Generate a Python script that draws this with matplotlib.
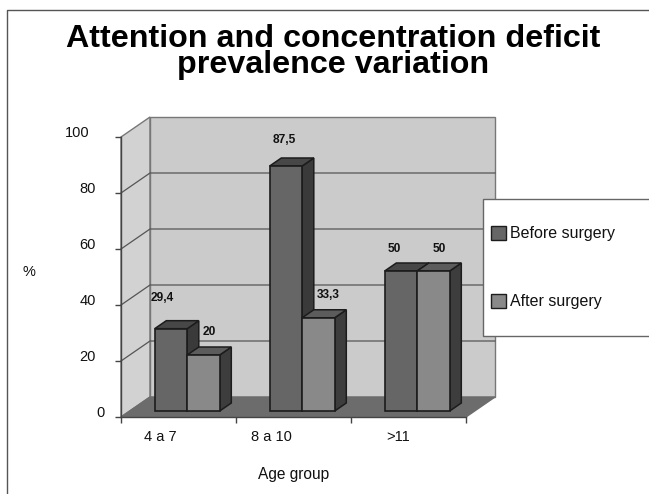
import matplotlib
matplotlib.use("Agg")
import matplotlib.pyplot as plt
from matplotlib.patches import Polygon, Rectangle

W, H = 649, 494
categories = ["4 a 7", "8 a 10", ">11"]
before = [29.4, 87.5, 50]
after = [20, 33.3, 50]
before_labels = ["29,4", "87,5", "50"]
after_labels = ["20", "33,3", "50"]
yticks = [0, 20, 40, 60, 80, 100]
title = "Attention and concentration deficit\nprevalence variation"

plt.rcParams["font.family"] = ["Liberation Sans", "DejaVu Sans"]
fig = plt.figure(figsize=(W / 100, H / 100), dpi=100)
ax = fig.add_axes([121 / W, (H - 417) / H, 345 / W, 280 / H])
ax.set_xlim(0, 3)
ax.set_ylim(0, 100)
ax.patch.set_visible(False)
for s in ax.spines.values():
    s.set_visible(False)

DX, DY = 29 / 115, 20 / 2.8   # full chart depth in data units
BW = 32.5 / 115
F0, F1 = 0.30, 0.70           # bar depth range as a fraction of chart depth
EDGE = "#1c1c1c"
# label placement relative to the top-centre of each bar's front face, in pixels
BEFORE_OFF = [(-9, 31), (-2, 26), (-7, 22)]
AFTER_OFF = [(6, 23), (10, 23), (6, 22)]
YLAB_OFF = {0: -12, 100: -23}
XLAB_OFF = [-13, -16, -7.5]


def poly(pts, fc, ec="#555555", lw=1.0, z=1):
    ax.add_patch(Polygon(pts, closed=True, fc=fc, ec=ec, lw=lw, zorder=z, clip_on=False))


# walls and floor
poly([(0, 0), (DX, DY), (DX, 100 + DY), (0, 100)], "#d2d2d2", "#777777")
poly([(DX, DY), (3 + DX, DY), (3 + DX, 100 + DY), (DX, 100 + DY)], "#cbcbcb", "#777777")
poly([(0, 0), (DX, DY), (3 + DX, DY), (3, 0)], "#6c6c6c", "#6c6c6c")
for t in yticks[1:-1]:
    ax.plot([0, DX, 3 + DX], [t, t + DY, t + DY], color="#555555", lw=0.9, zorder=2, clip_on=False)


def bar3d(x, v, front, side, top, z):
    ox, oy = DX * F0, DY * F0
    ex, ey = DX * (F1 - F0), DY * (F1 - F0)
    x0, x1 = x + ox, x + ox + BW
    y0, y1 = oy, oy + v
    poly([(x1, y0), (x1 + ex, y0 + ey), (x1 + ex, y1 + ey), (x1, y1)], side, EDGE, 1.1, z)
    poly([(x0, y1), (x1, y1), (x1 + ex, y1 + ey), (x0 + ex, y1 + ey)], top, EDGE, 1.1, z)
    poly([(x0, y0), (x1, y0), (x1, y1), (x0, y1)], front, EDGE, 1.2, z)


def bar_label(x, v, text, off):
    ax.annotate(text, (x + DX * F0 + 0.5 * BW, DY * F0 + v), xytext=off, textcoords="offset pixels",
                fontsize=8.6, fontweight="bold", ha="center", va="center", color="#111111",
                zorder=20, annotation_clip=False)


for i in range(len(categories)):
    c = i + 0.5
    bar3d(c - BW, before[i], "#666666", "#3a3a3a", "#474747", 3 + i * 2)
    bar3d(c, after[i], "#898989", "#3d3d3d", "#5c5c5c", 4 + i * 2)
    bar_label(c - BW, before[i], before_labels[i], BEFORE_OFF[i])
    bar_label(c, after[i], after_labels[i], AFTER_OFF[i])

# axes lines and ticks
ax.plot([0, 0], [0, 100], color="#444444", lw=1, zorder=2, clip_on=False)
ax.plot([0, 3], [0, 0], color="#444444", lw=1, zorder=2, clip_on=False)
ax.set_xticks(range(4))
ax.set_xticklabels([])
ax.tick_params(axis="x", length=4, width=1, color="#444444")
ax.set_yticks(yticks)
ax.set_yticklabels([])
ax.tick_params(axis="y", length=4, width=1, color="#444444")
for t in yticks:
    ax.annotate(str(t), (0, t), xytext=(YLAB_OFF.get(t, -18), 3), textcoords="offset points",
                fontsize=10.5, ha="right", va="center", color="#111111", annotation_clip=False)
for i, name in enumerate(categories):
    ax.annotate(name, (i + 0.5, 0), xytext=(XLAB_OFF[i], -14.5), textcoords="offset points",
                fontsize=10.5, ha="center", va="center", color="#111111", annotation_clip=False)

fig.text(294 / W, 1 - 474 / H, "Age group", fontsize=11.2, ha="center", va="center", color="#111111")
fig.text(29 / W, 1 - 272 / H, "%", fontsize=10.5, ha="center", va="center", color="#111111")
fig.text(333.5 / W, 1 - 52 / H, title, fontsize=23.2, fontweight="bold", ha="center", va="center",
         linespacing=0.86, color="black")

# frame
fig.add_artist(plt.Line2D([6.5 / W, 6.5 / W, 1], [0, 1 - 10 / H, 1 - 10 / H], color="#555555", lw=1))

# legend box
fig.add_artist(Rectangle((482.5 / W, 1 - 336 / H), 170 / W, 137.5 / H, transform=fig.transFigure,
                         fc="white", ec="#666666", lw=1, zorder=30))
for yy, col, lab in [(233, "#666666", "Before surgery"), (301, "#898989", "After surgery")]:
    fig.add_artist(Rectangle((491 / W, 1 - (yy + 7) / H), 15 / W, 14 / H, transform=fig.transFigure,
                             fc=col, ec=EDGE, lw=1, zorder=31))
    fig.text(510 / W, 1 - yy / H, lab, fontsize=11.5, ha="left", va="center", color="#111111", zorder=32)

fig.savefig("out.png", dpi=100)
